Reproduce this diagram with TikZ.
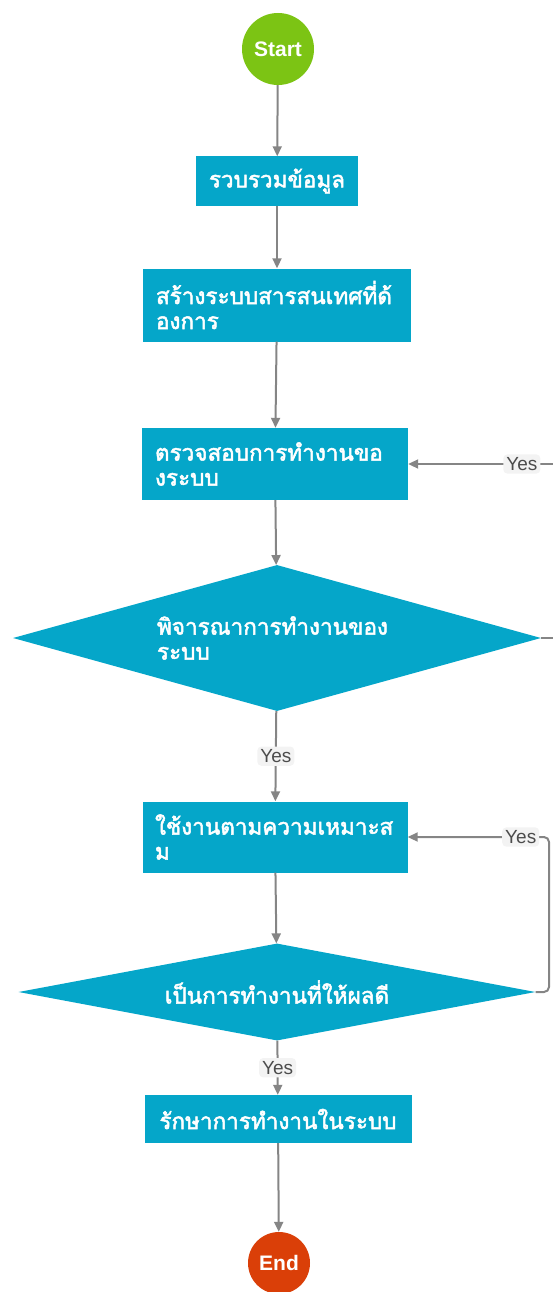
\documentclass[tikz,border=0pt]{standalone}
\usepackage{fontspec}
\setmainfont{Liberation Sans}
\newfontfamily\thaifont[Script=Thai, FakeBold=2.2]{Loma}
\usepackage{tikz}
\usetikzlibrary{shapes.geometric}
\usetikzlibrary{arrows.meta}
\definecolor{boxblue}{HTML}{05A6C9}
\definecolor{startgreen}{HTML}{7CC414}
\definecolor{endred}{HTML}{DA3F08}
\definecolor{linegray}{HTML}{858585}
\definecolor{yesgray}{HTML}{F3F3F3}
\begin{document}
\begin{tikzpicture}[x=1pt, y=-1pt,
  stepbox/.style={rectangle, fill=boxblue, text=white, inner sep=0pt,
    font=\thaifont\fontsize{22.5}{25}\selectfont},
  decision/.style={diamond, aspect=3.6, fill=boxblue, text=white, inner sep=0pt,
    font=\thaifont\fontsize{22.5}{25}\selectfont},
  terminal/.style={circle, text=white, inner sep=0pt,
    font=\bfseries\fontsize{21}{24}\selectfont},
  yeslabel/.style={fill=yesgray, text=black!70, rounded corners=4pt, inner sep=3pt,
    font=\fontsize{19}{21}\selectfont},
  flow/.style={draw=linegray, line width=2pt, -{Triangle[length=10pt,width=9pt]}}]
\useasboundingbox (0,0) rectangle (552,1292);

\node[terminal, fill=startgreen, minimum size=72pt] (start) at (278,49) {Start};
\node[stepbox, minimum width=162pt, minimum height=49pt] (collect) at (277,181) {รวบรวมข้อมูล};
\node[stepbox, minimum width=268pt, minimum height=73pt, text width=242pt, align=left] (build) at (277,305)
  {สร้างระบบสารสนเทศที่ด้\\องการ};
\node[stepbox, minimum width=266pt, minimum height=72pt, text width=240pt, align=left] (check) at (275,464)
  {ตรวจสอบการทำงานขอ\\งระบบ};
\node[decision, minimum width=528pt, minimum height=146pt, text width=240pt, align=left] (consider) at (277,638)
  {พิจารณาการทำงานของ\\ระบบ};
\node[stepbox, minimum width=265pt, minimum height=71pt, text width=240pt, align=left] (use) at (275,837)
  {ใช้งานตามความเหมาะส\\ม};
\node[decision, minimum width=517pt, minimum height=97pt, text width=260pt, align=center] (result) at (277,992)
  {เป็นการทำงานที่ให้ผลดี};
\node[stepbox, minimum width=267pt, minimum height=48pt] (keep) at (278,1119) {รักษาการทำงานในระบบ};
\node[terminal, fill=endred, minimum size=62pt] (end) at (279,1263) {End};

\coordinate (loopA) at (566,638);
\coordinate (loopB) at (549,992);

\draw[flow] (start) -- (collect);
\draw[flow] (collect) -- (build);
\draw[flow] (build) -- (check);
\draw[flow] (check) -- (consider);
\draw[flow] (consider) -- node[yeslabel] {Yes} (use);
\draw[flow] (consider.east) -- (loopA) |- node[yeslabel, pos=0.64] {Yes} (check.east);
\draw[flow] (use) -- (result);
\draw[flow, rounded corners=5pt] (result.east) -- (loopB) |- node[yeslabel, pos=0.6] {Yes} (use.east);
\draw[flow] (result) -- node[yeslabel] {Yes} (keep);
\draw[flow] (keep) -- (end);
\end{tikzpicture}
\end{document}
